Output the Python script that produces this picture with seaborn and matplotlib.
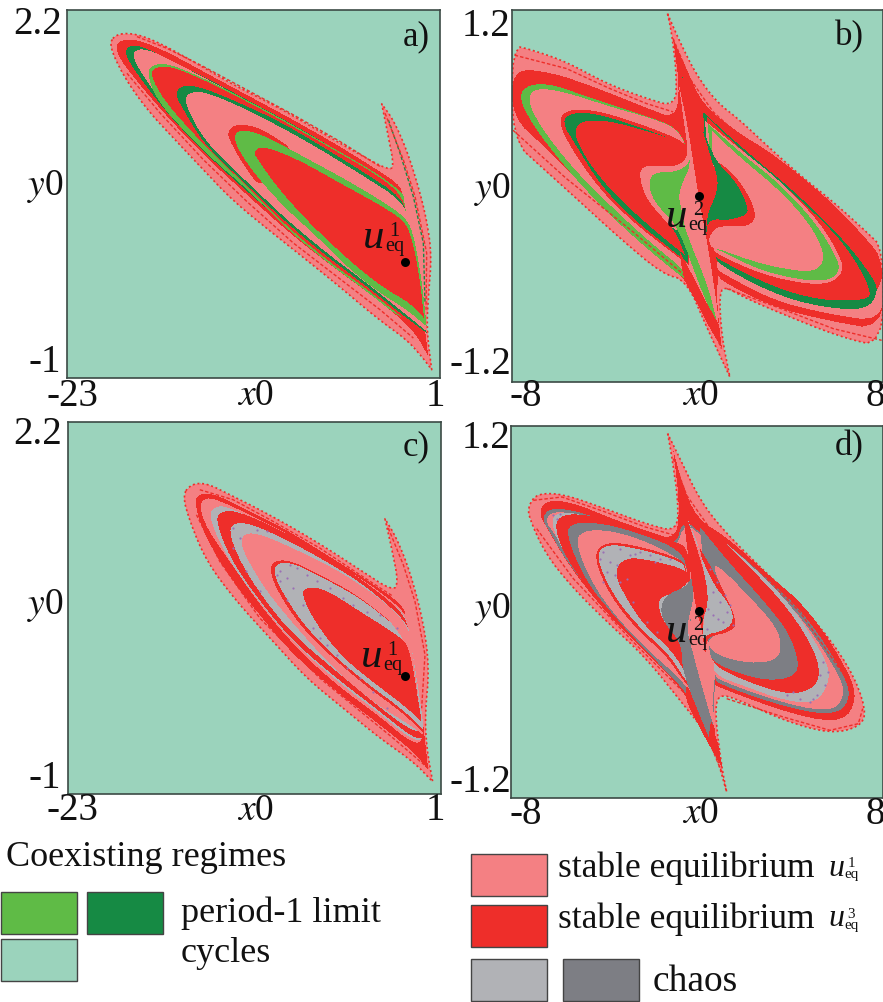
import numpy as np
import matplotlib
matplotlib.use('Agg')
import matplotlib.pyplot as plt
import seaborn as sns
from matplotlib.colors import ListedColormap
from matplotlib.path import Path
from matplotlib.patches import Rectangle

sns.set_theme(style='white')
plt.rcParams['font.family'] = ['Liberation Serif', 'DejaVu Serif']
plt.rcParams['mathtext.fontset'] = 'stix'

# Regime colours, in the order of the cell codes
BG, PINK, RED, LT, DK, LGREY, DGREY = 0, 1, 2, 3, 4, 5, 6
colors = ['#9BD3BC', '#F48083', '#EE2E2A', '#5FBB46', '#168A44', '#B1B2B6', '#7D7E84']

# Basin outlines, in scan units of each panel
# ---------------------------- panel a ----------------------------
a_extent = (20, 1140, 0, 1105)
a_edge = [(147,95),(175,70),(230,72),(300,100),(400,155),(520,225),(650,290),(780,365),(900,435),(985,480),(1002,470),(985,380),(965,282),(1000,330),(1040,420),(1075,530),(1100,630),(1115,735),(1105,860),(1100,960),(1115,1080),(1085,1040),(1040,990),(950,925),(820,815),(650,680),(520,575),(420,470),(340,385),(270,310),(210,230),(165,150)]
a_red1 = [(165,105),(190,88),(235,90),(320,125),(430,185),(560,255),(700,330),(840,410),(960,485),(1025,530),(1025,570),(1040,640),(1065,780),(1090,920),(1105,1040),(1060,960),(960,875),(830,780),(700,680),(560,555),(430,435),(320,320),(235,220),(180,150)]
a_dk1 = [(190,125),(215,103),(260,115),(340,155),(450,210),(580,280),(720,355),(860,440),(980,520),(1030,555),(1030,572),(1045,650),(1075,800),(1098,960),(1060,945),(960,860),(830,765),(700,665),(560,545),(430,425),(320,310),(225,185)]
a_pink1 = [(215,135),(235,115),(280,125),(350,160),(460,218),(590,288),(730,362),(870,448),(985,530),(1028,570),(1040,640),(1070,790),(1092,960),(1060,935),(960,850),(830,755),(700,655),(560,535),(430,415),(320,300),(240,185)]
a_lt1 = [(258,185),(285,162),(330,163),(420,200),(540,260),(680,335),(820,415),(950,490),(1030,550),(1032,572),(1045,650),(1080,830),(1098,950),(1020,925),(920,845),(800,757),(680,657),(560,537),(470,460),(380,372),(290,272)]
a_red2 = [(268,190),(290,170),(335,170),(425,207),(545,267),(685,342),(825,422),(955,497),(1030,560),(1040,640),(1075,830),(1095,975),(1020,918),(920,838),(800,750),(680,650),(560,530),(480,452),(400,372),(310,270)]
a_dk2 = [(345,255),(360,228),(410,228),(500,262),(650,330),(770,400),(900,480),(1030,565),(1040,640),(1075,840),(1100,970),(1020,910),(920,830),(800,740),(680,640),(570,535),(480,450),(420,385),(370,300)]
a_pink2 = [(372,275),(385,248),(430,245),(520,280),(650,345),(770,412),(900,492),(1030,575),(1045,640),(1075,800),(1090,920),(1100,965),(1020,900),(920,820),(800,730),(680,630),(570,525),(480,440),(420,372)]
a_red3 = [(500,368),(525,342),(590,350),(650,385),(700,420),(640,480),(600,535),(550,465),(515,405)]
a_lt3 = [(520,380),(540,358),(610,375),(720,435),(850,505),(960,570),(1040,625),(1062,680),(1085,810),(1100,950),(1040,900),(960,850),(870,780),(770,680),(670,590),(590,500),(540,430)]
a_red4 = [(578,425),(610,407),(720,452),(840,520),(950,580),(1030,630),(1055,680),(1080,810),(1092,925),(1050,880),(980,840),(900,780),(800,690),(720,610),(650,530),(600,460)]
a_strand1 = [(985,330),(1020,430),(1060,560),(1090,700),(1095,880)]
a_strand2 = [(975,310),(1030,450),(1065,560),(1100,730),(1098,900)]
a_strand3 = [(200,190),(300,310),(430,450),(560,575),(700,700),(830,800),(960,900),(1060,985)]
a_strand4 = [(230,80),(320,115),(430,170),(560,240),(700,315),(840,395),(960,470)]
a_point = (1035, 757)

# ---------------------------- panel b ----------------------------
b_extent = (37, 1149, 13, 1130)
b_edge = [(503,25),(540,110),(590,210),(650,290),(720,345),(800,420),(900,510),(1000,590),(1100,680),(1150,730),(1150,1025),(1020,995),(820,915),(720,870),(680,845),(658,860),(665,990),(690,1115),(620,965),(560,825),(486,805),(356,695),(236,585),(136,495),(37,405),(37,120),(100,135),(200,170),(320,235),(440,280),(528,305),(530,200),(515,80)]
b_red1 = [(520,100),(560,190),(610,300),(720,385),(820,445),(980,575),(1100,700),(1150,765),(1150,975),(980,945),(820,905),(670,830),(655,810),(650,880),(665,1025),(630,960),(596,875),(486,745),(366,645),(236,525),(136,425),(37,335),(37,188),(156,200),(286,245),(436,305),(526,340),(540,250)]
b_pink_low = [(1150,800),(1150,950),(980,925),(820,885),(670,805),(650,790),(650,760),(800,790),(1000,870),(1130,870)]
b_dk_ring = [(610,320),(720,421),(900,572),(1040,712),(1120,818),(1135,860),(1100,915),(960,905),(820,865),(660,780),(645,750),(635,700),(620,500)]
b_red_in = [(620,330),(720,430),(900,580),(1040,720),(1115,855),(1100,885),(960,885),(820,845),(660,765),(640,745),(635,700),(620,500)]
b_pink_thin = [(615,345),(720,430),(840,525),(960,650),(1022,755),(1030,800),(990,835),(910,835),(780,805),(650,745),(640,730),(630,500)]
b_lt_right = [(625,355),(720,440),(840,535),(950,655),(1010,755),(1020,795),(990,825),(910,825),(780,795),(660,735),(645,730),(630,500)]
b_pink_right = [(635,375),(720,455),(840,555),(930,655),(975,745),(960,790),(910,800),(780,775),(655,730),(630,725),(625,680),(640,500)]
b_lt_left = [(56,270),(86,237),(156,235),(266,275),(436,330),(536,367),(570,450),(600,700),(650,945),(600,850),(546,815),(436,725),(316,615),(196,485),(96,355)]
b_pink_left = [(81,275),(116,245),(216,265),(336,305),(446,335),(536,370),(566,445),(596,570),(616,705),(650,930),(606,875),(556,795),(456,715),(336,605),(216,485),(116,355)]
b_red2 = [(174,345),(206,310),(296,315),(436,360),(541,402),(566,430),(568,780),(500,728),(400,650),(300,552),(215,430)]
b_dk2 = [(186,350),(216,320),(296,325),(436,370),(541,410),(566,430),(566,775),(506,725),(406,645),(306,545),(226,415)]
b_red3 = [(221,380),(245,345),(326,345),(436,375),(566,415),(566,445),(546,475),(506,485),(441,477),(416,500),(436,575),(486,635),(526,675),(556,750),(476,685),(396,615),(316,535),(256,455)]
b_red_center = [(655,465),(725,530),(772,625),(750,663),(680,660),(640,670),(622,715),(610,640),(650,560),(640,480)]
b_dk_center = [(540,190),(570,285),(630,425),(655,475),(710,530),(745,605),(740,630),(680,645),(640,640),(620,660),(620,680),(615,640),(655,555),(650,495),(620,435),(590,350)]
b_sliver = [(536,195),(546,215),(596,335),(636,465),(656,535),(636,595),(621,635),(618,710),(605,650),(596,570),(581,475),(566,375),(548,280)]
b_pink3 = [(416,500),(441,477),(506,485),(546,475),(566,445),(555,370),(536,230),(566,375),(581,475),(600,595),(625,725),(655,925),(656,955),(620,885),(580,775),(540,675),(526,675),(486,635),(436,575)]
b_lt3 = [(446,525),(466,500),(526,500),(561,480),(571,460),(566,495),(546,535),(536,575),(546,615),(556,675),(626,845),(650,945),(611,875),(536,665),(486,615),(456,575)]
b_red_low = [(540,740),(600,850),(650,960),(668,1030),(630,970),(590,890),(550,820)]
b_strand1 = [(520,100),(570,220),(640,320),(760,430),(900,550),(1100,720)]
b_strand2 = [(40,375),(200,520),(400,680),(560,815),(620,930),(665,1030)]
b_strand3 = [(45,150),(200,190),(330,250),(440,295),(520,320)]
b_strand4 = [(680,850),(830,905),(1000,970),(1145,1005)]
b_point = (597, 572)

# ---------------------------- panel c ----------------------------
c_extent = (25, 1143, 22, 1137)
c_edge = [(368,240),(395,208),(440,205),(510,240),(600,285),(700,340),(800,400),(900,465),(1000,530),(1015,500),(995,400),(975,312),(1010,370),(1050,470),(1090,620),(1108,760),(1095,900),(1100,1000),(1118,1100),(1060,1040),(960,970),(850,880),(740,790),(640,680),(530,560),(440,440),(390,320)]
c_red1 = [(403,255),(425,235),(470,240),(560,285),(680,345),(800,420),(920,495),(1030,570),(1040,620),(1075,800),(1105,1065),(1060,1010),(960,930),(830,830),(700,720),(590,590),(490,460),(425,340)]
c_pink1 = [(418,270),(440,248),(480,258),(570,300),(690,360),(810,435),(925,505),(1030,585),(1045,630),(1075,800),(1095,980),(1055,985),(960,905),(830,810),(710,700),(600,570),(510,440),(440,340)]
c_grey1 = [(445,305),(465,275),(500,275),(590,315),(700,375),(810,440),(925,515),(1030,590),(1045,640),(1080,850),(1095,975),(1055,975),(960,897),(830,798),(705,688),(600,565),(505,435)]
c_red2 = [(465,310),(490,287),(540,292),(640,335),(760,400),(880,475),(1030,590),(1050,660),(1080,900),(1095,970),(1060,970),(960,890),(830,790),(700,680),(600,560),(510,430)]
c_grey2 = [(505,345),(530,322),(580,330),(680,375),(800,440),(920,515),(1045,625),(1050,680),(1090,950),(1050,945),(950,870),(830,770),(700,660),(610,550),(540,440)]
c_pink2 = [(540,375),(565,352),(620,365),(720,410),(840,470),(960,550),(1040,625),(1055,690),(1090,960),(1050,930),(950,870),(830,770),(720,650),(620,530),(560,430)]
c_red3 = [(628,460),(650,435),(700,440),(790,485),(900,545),(1040,660),(1090,955),(1030,895),(920,815),(810,722),(720,632),(650,525)]
c_grey3 = [(640,465),(660,442),(705,447),(795,492),(905,552),(1045,665),(1090,945),(1030,885),(920,805),(810,712),(725,622),(660,520)]
c_red4 = [(722,535),(745,515),(800,525),(900,590),(1020,665),(1050,700),(1085,920),(1030,870),(950,810),(850,730),(770,630)]
c_strand1 = [(985,340),(1030,450),(1065,560),(1095,720),(1085,880)]
c_strand2 = [(410,300),(480,440),(600,610),(780,790),(1000,970),(1105,1060)]
c_strand3 = [(420,225),(520,255),(640,320),(780,400),(900,480),(1000,545)]
c_point = (1035, 783)
c_speck_x = [520,540,590,620,660,680,700,660,690,730,760,780,800,830,860,900,940,980,960,1010,710,740,770,810,850,880,920,680,650,520,560,600]
c_speck_y = [340,370,345,350,470,490,520,500,450,570,640,670,690,720,760,790,830,880,600,640,460,480,500,520,550,570,590,555,480,400,470,530]

# ---------------------------- panel d ----------------------------
d_extent = (33, 1149, 32, 1148)
d_edge = [(503,55),(515,120),(535,260),(531,350),(436,325),(316,280),(186,235),(111,235),(86,270),(86,305),(136,415),(216,515),(316,615),(436,725),(556,875),(636,975),(680,1130),(665,1055),(645,895),(655,835),(720,855),(850,915),(990,955),(1080,935),(1100,885),(1050,755),(930,595),(790,465),(670,345),(600,255),(540,130)]
d_red1 = [(520,105),(545,200),(590,310),(680,365),(790,465),(930,585),(1050,775),(1070,855),(1030,920),(900,905),(650,815),(640,800),(640,930),(660,1040),(620,960),(556,830),(430,705),(316,590),(206,450),(145,345),(116,295),(136,255),(216,260),(336,310),(436,345),(526,375),(540,280)]
d_dk1 = [(126,315),(145,278),(226,285),(336,325),(436,362),(526,395),(550,310),(610,360),(690,390),(790,480),(920,600),(1040,790),(1050,855),(1005,900),(870,880),(650,805),(645,785),(640,930),(600,860),(545,800),(430,695),(316,580),(200,440),(150,350)]
d_pink1 = [(136,318),(155,288),(230,295),(336,335),(436,372),(526,405),(555,320),(615,370),(690,402),(790,492),(910,610),(1028,795),(1030,850),(995,888),(870,870),(655,795),(645,775),(635,900),(600,850),(550,790),(430,685),(320,570),(210,430),(160,350)]
d_lg1 = [(151,325),(170,290),(240,295),(396,345),(526,400),(530,450),(300,530),(200,430)]
d_r_lg = [(640,350),(750,445),(880,575),(980,735),(990,795),(950,865),(850,855),(740,815),(645,780),(640,740),(620,500)]
d_r_red = [(620,330),(750,455),(870,585),(950,715),(960,795),(920,830),(850,835),(730,795),(640,750),(630,700),(610,500)]
d_r_dk = [(600,335),(690,445),(790,555),(870,655),(900,755),(870,790),(780,795),(640,745),(625,700),(615,500)]
d_r_pink = [(650,445),(750,545),(830,635),(845,695),(830,735),(750,745),(650,720),(620,685),(640,660),(715,620),(640,465)]
d_c_red = [(640,465),(715,620),(690,650),(640,660),(620,675),(615,725),(610,640),(625,545),(600,400)]
d_c_lg = [(560,305),(630,495),(695,575),(700,625),(660,650),(625,655),(610,675),(610,615),(625,545),(600,400)]
d_l_red = [(161,335),(186,295),(276,300),(396,335),(526,380),(560,395),(575,480),(560,700),(640,950),(640,960),(576,805),(516,720),(430,690),(316,585),(206,445)]
d_l_dk = [(196,355),(221,320),(316,325),(436,360),(531,400),(565,450),(570,650),(640,960),(576,860),(536,805),(436,705),(336,595),(256,495)]
d_l_pink = [(226,385),(246,345),(336,345),(456,385),(536,430),(565,455),(570,650),(620,890),(536,785),(466,725),(356,615),(276,505)]
d_l_thin = [(278,420),(318,378),(416,392),(536,428),(563,455),(562,650),(600,850),(552,800),(500,722),(410,642),(330,542)]
d_l_lg = [(286,420),(321,385),(416,400),(536,435),(561,460),(560,650),(600,850),(556,795),(506,715),(416,635),(336,535)]
d_l_red2 = [(341,470),(376,425),(456,435),(566,465),(566,505),(516,535),(471,550),(486,615),(546,685),(581,765),(646,965),(576,805),(516,705),(436,635),(376,545)]
d_c_dk = [(483,565),(506,535),(556,515),(576,485),(581,555),(561,625),(566,675),(636,895),(626,965),(546,770),(546,685),(486,615)]
d_c_pink = [(561,625),(596,595),(606,625),(612,720),(650,945),(640,935),(570,685)]
d_sliver = [(546,265),(556,355),(576,505),(591,595),(606,640),(615,720),(606,615),(626,565),(616,475)]
d_low_red = [(560,810),(610,890),(650,960),(668,1060),(625,985),(590,920),(555,850)]
d_strand1 = [(520,130),(560,240),(630,340),(760,450),(900,590),(1060,820)]
d_strand2 = [(110,340),(220,490),(400,680),(560,840),(620,960),(665,1070)]
d_strand3 = [(100,255),(186,245),(316,290),(436,335),(525,360)]
d_strand4 = [(680,850),(850,905),(990,945),(1075,925),(1088,880)]
d_point = (597, 587)
d_speck_x = [310,330,360,390,420,450,480,510,320,350,380,310,640,660,680,670,640,690,650,630,960,975,950,930,900,860,970,160,170,180,360,400,440,470,700,620,300,345,405,465,655,675,625,985,940,880]
d_speck_y = [410,440,400,420,410,420,430,430,470,450,490,500,530,560,590,620,600,570,500,460,780,810,840,860,850,840,740,300,310,295,500,560,620,650,630,640,430,480,415,440,610,540,580,770,850,830]

# Layers are painted from the outside of the basin inwards
a_layers = [(a_edge,PINK),(a_red1,RED),(a_dk1,DK),(a_pink1,PINK),(a_lt1,LT),(a_red2,RED),(a_dk2,DK),(a_pink2,PINK),(a_red3,RED),(a_lt3,LT),(a_red4,RED)]
b_layers = [(b_edge,PINK),(b_red1,RED),(b_pink_low,PINK),(b_dk_ring,DK),(b_red_in,RED),(b_pink_thin,PINK),(b_lt_right,LT),(b_pink_right,PINK),(b_lt_left,LT),(b_pink_left,PINK),(b_red2,RED),(b_dk2,DK),(b_red3,RED),(b_red_center,RED),(b_dk_center,DK),(b_sliver,RED),(b_pink3,PINK),(b_lt3,LT),(b_red_low,RED)]
c_layers = [(c_edge,PINK),(c_red1,RED),(c_pink1,PINK),(c_grey1,LGREY),(c_red2,RED),(c_grey2,LGREY),(c_pink2,PINK),(c_red3,RED),(c_grey3,LGREY),(c_red4,RED)]
d_layers = [(d_edge,PINK),(d_red1,RED),(d_dk1,DGREY),(d_pink1,PINK),(d_lg1,LGREY),(d_r_lg,LGREY),(d_r_red,RED),(d_r_dk,DGREY),(d_r_pink,PINK),(d_c_red,RED),(d_c_lg,LGREY),(d_l_red,RED),(d_l_dk,DGREY),(d_l_pink,PINK),(d_l_thin,RED),(d_l_lg,LGREY),(d_l_red2,RED),(d_low_red,RED),(d_c_dk,DGREY),(d_c_pink,PINK),(d_sliver,RED)]

W, H = 883, 1002
fig = plt.figure(figsize=(W / 100, H / 100), dpi=100)
ink = '#111111'


def label(x, y, s, size=27, **kw):
    fig.text(x / W, 1 - y / H, s, fontsize=size, color=ink, ha='center', va='center', **kw)


def ueq(x, y, digit, size=31):
    # italic u, then the index and "eq" stacked in one small text beside it
    label(x, y, 'u', size, style='italic')
    fig.text((x + size * 0.36) / W, 1 - (y + 1) / H, digit + '\neq', fontsize=size * 0.47, color=ink,
             ha='left', va='center', multialignment='center', linespacing=0.72)


def soften(outline, passes=2):
    # corner cutting, so the outlines don't look like polygons; sharp tips stay sharp
    pts = np.array(outline, dtype=float)
    prev, nxt = np.roll(pts, 1, axis=0), np.roll(pts, -1, axis=0)
    v1, v2 = prev - pts, nxt - pts
    cosang = (v1 * v2).sum(axis=1) / (np.linalg.norm(v1, axis=1) * np.linalg.norm(v2, axis=1) + 1e-9)
    pts = np.repeat(pts, np.where(cosang > 0.6, 3, 1), axis=0)
    for _ in range(passes):
        nxt = np.roll(pts, -1, axis=0)
        pts = np.column_stack([0.75 * pts + 0.25 * nxt, 0.25 * pts + 0.75 * nxt]).reshape(-1, 2)
    return pts


def draw_panel(box, extent, layers, strands, edge, point, speck=None):
    left, top, right, bottom = box
    ax = fig.add_axes([left / W, 1 - bottom / H, (right - left) / W, (bottom - top) / H])
    x0, x1, y0, y1 = extent
    nx, ny = int(right - left), int(bottom - top)

    gx = x0 + (np.arange(nx) + 0.5) / nx * (x1 - x0)
    gy = y0 + (np.arange(ny) + 0.5) / ny * (y1 - y0)
    xx, yy = np.meshgrid(gx, gy)
    cells = np.column_stack([xx.ravel(), yy.ravel()])
    grid = np.zeros(cells.shape[0], dtype=int)
    for outline, code in layers:
        grid[Path(soften(outline)).contains_points(cells)] = code
    grid = grid.reshape(ny, nx)

    sns.heatmap(grid, cmap=ListedColormap(colors), vmin=0, vmax=6, cbar=False,
                xticklabels=False, yticklabels=False, ax=ax, rasterized=True)

    def to_cells(p):
        p = np.asarray(p, dtype=float)
        return (p[:, 0] - x0) / (x1 - x0) * nx, (p[:, 1] - y0) / (y1 - y0) * ny

    # the mottled fringe of the basin
    ex, ey = to_cells(soften(edge))
    ex, ey = np.append(ex, ex[0]), np.append(ey, ey[0])
    sns.lineplot(x=ex, y=ey, sort=False, estimator=None, color=colors[RED], lw=1.2,
                 linestyle=(0, (1.2, 1.6)), ax=ax, legend=False)
    for strand, code in strands:
        sx, sy = to_cells(strand)
        sns.lineplot(x=sx, y=sy, sort=False, estimator=None, color=colors[code], lw=1.0,
                     linestyle=(0, (2.5, 1.5)), ax=ax, legend=False)
    if speck is not None:
        px, py = to_cells(np.column_stack(speck))
        sns.scatterplot(x=px, y=py, s=2.5, color='#9A6FB5', linewidth=0, ax=ax, legend=False)
    qx, qy = to_cells([point])
    sns.scatterplot(x=qx, y=qy, s=42, color='black', linewidth=0, ax=ax, legend=False, zorder=5)

    ax.set_xlim(0, nx)
    ax.set_ylim(ny, 0)
    ax.set_xlabel('')
    ax.set_ylabel('')
    for spine in ax.spines.values():
        spine.set_visible(True)
        spine.set_color('#3c4a45')
        spine.set_linewidth(1.2)
    return ax


draw_panel((67, 10, 440, 378), a_extent, a_layers,
           [(a_strand1, DK), (a_strand2, RED), (a_strand3, RED), (a_strand4, RED)], a_edge, a_point)
draw_panel((512, 9.5, 883, 382), b_extent, b_layers,
           [(b_strand1, RED), (b_strand2, RED), (b_strand3, RED), (b_strand4, RED)], b_edge, b_point)
draw_panel((68, 422, 441, 794), c_extent, c_layers,
           [(c_strand1, RED), (c_strand2, RED), (c_strand3, RED)], c_edge, c_point, speck=(c_speck_x, c_speck_y))
draw_panel((511, 426, 883, 798), d_extent, d_layers,
           [(d_strand1, RED), (d_strand2, RED), (d_strand3, RED), (d_strand4, RED)], d_edge, d_point,
           speck=(d_speck_x, d_speck_y))

# Axis labels, placed like in the original
for x, y, s in [(38, 24, '2.2'), (45, 362, '-1'), (72, 396, '-23'), (435, 396, '1'),
                (486, 26, '1.2'), (480, 365, '-1.2'), (526, 396, '-8'), (875, 396, '8'),
                (38, 435, '2.2'), (45, 778, '-1'), (72, 811, '-23'), (435, 811, '1'),
                (486, 439, '1.2'), (480, 783, '-1.2'), (526, 814, '-8'), (875, 814, '8')]:
    label(x, y, s, 28)

for x, y, s in [(45, 187, '$y$0'), (492, 190, '$y$0'), (45, 605, '$y$0'), (492, 610, '$y$0'),
                (255, 396, '$x$0'), (700, 396, '$x$0'), (255, 811, '$x$0'), (700, 814, '$x$0')]:
    label(x, y, s, 27)

for x, y, s in [(416, 37, 'a)'), (849, 37, 'b)'), (416, 447, 'c)'), (849, 447, 'd)')]:
    label(x, y, s, 25)

ueq(374, 238, '1')
ueq(677, 217, '2')
ueq(372, 657, '1')
ueq(677, 632, '2')

# Legend swatches and text
swatches = [(1, 892, LT), (87, 892, DK), (1, 939, BG), (471, 854, PINK), (471, 905, RED), (471, 959, LGREY), (563, 959, DGREY)]
for x, y, code in swatches:
    fig.add_artist(Rectangle((x / W, 1 - (y + 42) / H), 76 / W, 42 / H, transform=fig.transFigure,
                             facecolor=colors[code], edgecolor='#444444', lw=1))

for x, y, s, size in [(6, 858, 'Coexisting regimes', 26), (181, 913, 'period-1 limit', 26), (181, 954, 'cycles', 26),
                      (558, 868, 'stable equilibrium', 25.5), (558, 919, 'stable equilibrium', 25.5), (653, 982, 'chaos', 27)]:
    fig.text(x / W, 1 - y / H, s, fontsize=size, color=ink, va='center')
ueq(836, 868, '1', 23)
ueq(836, 919, '3', 23)

fig.savefig('out.png', dpi=100)
